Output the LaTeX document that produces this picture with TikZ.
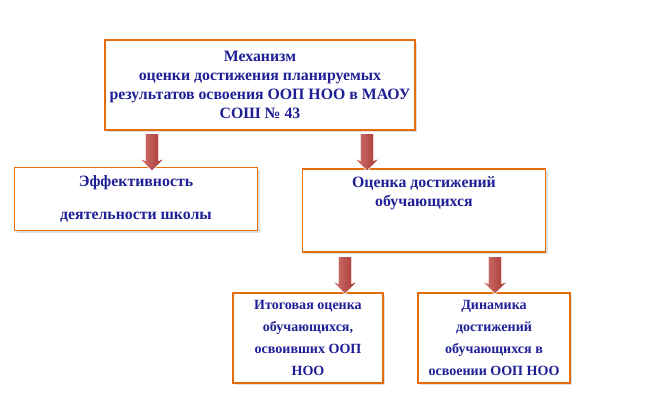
\documentclass[tikz,border=0pt]{standalone}
\usepackage{fontspec}
\setmainfont{Liberation Serif}
\usetikzlibrary{positioning,shapes.arrows,shadows}
\definecolor{boxline}{RGB}{228,108,10}
\definecolor{boxtext}{RGB}{32,32,150}
\definecolor{arrowred}{RGB}{192,60,55}
\tikzset{
	cstbox/.style  ={draw=boxline,line width=1.6pt,fill=white,text=boxtext,
		font=\bfseries\fontsize{13.5}{16}\selectfont,align=center,
		drop shadow={shadow xshift=2pt,shadow yshift=-2pt,opacity=.25}},
	cstdown/.style ={single arrow,rotate=-90,draw=white,line width=.6pt,
		left color=arrowred!70,right color=arrowred!85!black,
		minimum width=22pt,single arrow head extend=4pt,
		single arrow head indent=2pt,inner sep=4pt,minimum height=32pt}
}
\begin{document}
\begin{tikzpicture}[x=0.03cm,y=-0.03cm]
	\useasboundingbox (0,0) rectangle (667,401);
	% boxes
	\node[cstbox,minimum width=310*0.03cm,minimum height=90*0.03cm] (mech) at (260,85)
		{Механизм\\оценки достижения планируемых\\результатов освоения ООП НОО в МАОУ\\СОШ № 43};
	\node[cstbox,minimum width=243*0.03cm,minimum height=63*0.03cm,
		font=\bfseries\fontsize{13.5}{28}\selectfont] (eff) at (136,199)
		{Эффективность\\деятельности школы};
	\node[cstbox,minimum width=243*0.03cm,minimum height=83*0.03cm,anchor=north] (ocen) at (424,168)
		{Оценка достижений\\обучающихся\\[16pt]};
	\node[cstbox,minimum width=150*0.03cm,minimum height=90*0.03cm,
		font=\bfseries\fontsize{12}{19}\selectfont] (itog) at (308,338)
		{Итоговая оценка\\обучающихся,\\освоивших ООП\\НОО};
	\node[cstbox,minimum width=152*0.03cm,minimum height=90*0.03cm,
		font=\bfseries\fontsize{12}{19}\selectfont] (dyn) at (494,338)
		{Динамика\\достижений\\обучающихся в\\освоении ООП НОО};
	% arrows
	\node[cstdown] (a1) at (152,149) {};
	\node[cstdown] (a2) at (367,149) {};
	\node[cstdown] (a3) at (345,272) {};
	\node[cstdown] (a4) at (495,272) {};
\end{tikzpicture}
\end{document}
